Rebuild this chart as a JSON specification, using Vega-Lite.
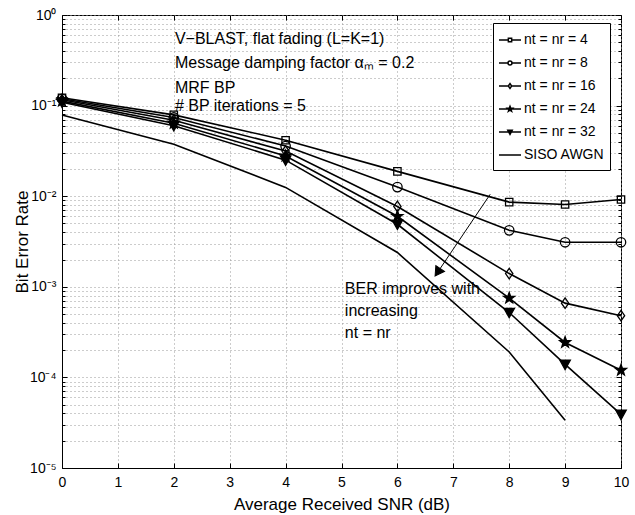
{
  "$schema": "https://vega.github.io/schema/vega-lite/v6.json",
  "width": 559,
  "height": 453,
  "autosize": {"type": "none"},
  "padding": {"left": 62, "top": 15, "right": 14, "bottom": 47},
  "background": "white",
  "config": {
    "view": {"stroke": "black", "strokeWidth": 1},
    "font": "Liberation Sans",
    "axis": {"labelFont": "Liberation Sans", "titleFont": "Liberation Sans", "domainColor": "black", "tickColor": "black", "labelColor": "black", "titleColor": "black", "titleFontWeight": "normal"}
  },
  "datasets": {
    "ber": [
      {"snr": 0, "ber": 0.122, "series": "nt = nr = 4"},
      {"snr": 2, "ber": 0.079, "series": "nt = nr = 4"},
      {"snr": 4, "ber": 0.0415, "series": "nt = nr = 4"},
      {"snr": 6, "ber": 0.0188, "series": "nt = nr = 4"},
      {"snr": 8, "ber": 0.0086, "series": "nt = nr = 4"},
      {"snr": 9, "ber": 0.0081, "series": "nt = nr = 4"},
      {"snr": 10, "ber": 0.0092, "series": "nt = nr = 4"},
      {"snr": 0, "ber": 0.119, "series": "nt = nr = 8"},
      {"snr": 2, "ber": 0.074, "series": "nt = nr = 8"},
      {"snr": 4, "ber": 0.0358, "series": "nt = nr = 8"},
      {"snr": 6, "ber": 0.0126, "series": "nt = nr = 8"},
      {"snr": 8, "ber": 0.0042, "series": "nt = nr = 8"},
      {"snr": 9, "ber": 0.0031, "series": "nt = nr = 8"},
      {"snr": 10, "ber": 0.0031, "series": "nt = nr = 8"},
      {"snr": 0, "ber": 0.116, "series": "nt = nr = 16"},
      {"snr": 2, "ber": 0.069, "series": "nt = nr = 16"},
      {"snr": 4, "ber": 0.0315, "series": "nt = nr = 16"},
      {"snr": 6, "ber": 0.0077, "series": "nt = nr = 16"},
      {"snr": 8, "ber": 0.0014, "series": "nt = nr = 16"},
      {"snr": 9, "ber": 0.00066, "series": "nt = nr = 16"},
      {"snr": 10, "ber": 0.00048, "series": "nt = nr = 16"},
      {"snr": 0, "ber": 0.112, "series": "nt = nr = 24"},
      {"snr": 2, "ber": 0.064, "series": "nt = nr = 24"},
      {"snr": 4, "ber": 0.0278, "series": "nt = nr = 24"},
      {"snr": 6, "ber": 0.006, "series": "nt = nr = 24"},
      {"snr": 8, "ber": 0.00075, "series": "nt = nr = 24"},
      {"snr": 9, "ber": 0.000243, "series": "nt = nr = 24"},
      {"snr": 10, "ber": 0.00012, "series": "nt = nr = 24"},
      {"snr": 0, "ber": 0.109, "series": "nt = nr = 32"},
      {"snr": 2, "ber": 0.06, "series": "nt = nr = 32"},
      {"snr": 4, "ber": 0.025, "series": "nt = nr = 32"},
      {"snr": 6, "ber": 0.0049, "series": "nt = nr = 32"},
      {"snr": 8, "ber": 0.00052, "series": "nt = nr = 32"},
      {"snr": 9, "ber": 0.000139, "series": "nt = nr = 32"},
      {"snr": 10, "ber": 0.000039, "series": "nt = nr = 32"},
      {"snr": 0, "ber": 0.0786, "series": "SISO AWGN"},
      {"snr": 2, "ber": 0.0375, "series": "SISO AWGN"},
      {"snr": 4, "ber": 0.0125, "series": "SISO AWGN"},
      {"snr": 6, "ber": 0.00239, "series": "SISO AWGN"},
      {"snr": 8, "ber": 0.000191, "series": "SISO AWGN"},
      {"snr": 9, "ber": 0.0000336, "series": "SISO AWGN"}
    ],
    "notes": [
      {"x": 2.02, "y": 0.537, "label": "V−BLAST, flat fading (L=K=1)"},
      {"x": 2.02, "y": 0.297, "label": "Message damping factor αₘ = 0.2"},
      {"x": 2.02, "y": 0.157, "label": "MRF BP"},
      {"x": 2.02, "y": 0.0987, "label": "# BP iterations = 5"},
      {"x": 5.06, "y": 0.00094, "label": "BER improves with"},
      {"x": 5.06, "y": 0.000542, "label": "increasing"},
      {"x": 5.06, "y": 0.000313, "label": "nt = nr"}
    ],
    "arrow": [
      {"x": 7.66, "y": 0.0105, "x2": 6.673, "y2": 0.00131, "hx": 6.72, "hy": 0.001447}
    ]
  },
  "layer": [
    {
      "data": {"name": "ber"},
      "mark": {"type": "line", "color": "black", "strokeWidth": 1.6},
      "encoding": {
        "x": {"field": "snr", "type": "quantitative", "scale": {"domain": [0, 10], "nice": false},
          "axis": {"orient": "bottom", "values": [0,1,2,3,4,5,6,7,8,9,10], "title": "Average Received SNR (dB)", "titleFontSize": 17, "titlePadding": 7, "labelFontSize": 14, "labelPadding": 12, "tickSize": -5, "grid": true, "gridDash": [1, 3], "gridColor": "#999", "gridOpacity": 1, "labelFlush": false}},
        "y": {"field": "ber", "type": "quantitative", "scale": {"type": "log", "domain": [0.00001, 1], "nice": false},
          "axis": {"orient": "left", "title": "Bit Error Rate", "titleFontSize": 17, "titleX": -40, "titleY": 226.5, "titleBaseline": "middle", "labelFontSize": 14, "labelPadding": 11, "labelOverlap": false, "labelFlush": false,
            "values": [0.00001,0.00002,0.00003,0.00004,0.00005,0.00006,0.00007,0.00008,0.00009,0.0001,0.0002,0.0003,0.0004,0.0005,0.0006,0.0007,0.0008,0.0009,0.001,0.002,0.003,0.004,0.005,0.006,0.007,0.008,0.009,0.01,0.02,0.03,0.04,0.05,0.06,0.07,0.08,0.09,0.1,0.2,0.3,0.4,0.5,0.6,0.7,0.8,0.9,1],
            "labelExpr": "abs(log(datum.value)/LN10 - round(log(datum.value)/LN10)) < 0.000001 ? (round(log(datum.value)/LN10) == 0 ? '10⁰' : round(log(datum.value)/LN10) == -1 ? '10⁻¹' : round(log(datum.value)/LN10) == -2 ? '10⁻²' : round(log(datum.value)/LN10) == -3 ? '10⁻³' : round(log(datum.value)/LN10) == -4 ? '10⁻⁴' : '10⁻⁵') : ''",
            "tickSize": {"condition": {"test": "abs(log(datum.value)/LN10 - round(log(datum.value)/LN10)) < 0.000001", "value": -5}, "value": -3},
            "grid": true, "gridDash": [1, 3], "gridColor": "#999", "gridOpacity": 1}},
        "detail": {"field": "series"},
        "order": {"field": "snr"}
      }
    },
    {
      "data": {"name": "ber"},
      "transform": [{"filter": "datum.series != 'SISO AWGN'"}],
      "mark": {"type": "point", "filled": true, "stroke": "black", "strokeWidth": 1.3, "opacity": 1, "size": 110},
      "encoding": {
        "x": {"field": "snr", "type": "quantitative", "axis": null},
        "y": {"field": "ber", "type": "quantitative", "axis": null},
        "shape": {"field": "series", "type": "nominal", "legend": null,
          "scale": {"domain": ["nt = nr = 4", "nt = nr = 8", "nt = nr = 16", "nt = nr = 24", "nt = nr = 32"],
            "range": [
              "M-0.7,-0.7H0.7V0.7H-0.7Z",
              "M-0.9,0A0.9,0.9 0 1,0 0.9,0A0.9,0.9 0 1,0 -0.9,0Z",
              "M0,-1L0.7,0L0,1L-0.7,0Z",
              "M0,-1.1L0.265,-0.364L1.046,-0.34L0.428,0.139L0.647,0.89L0,0.45L-0.647,0.89L-0.428,0.139L-1.046,-0.34L-0.265,-0.364Z",
              "M-1,-0.8L1,-0.8L0,1Z"
            ]}},
        "fill": {"field": "series", "type": "nominal", "legend": null,
          "scale": {"domain": ["nt = nr = 4", "nt = nr = 8", "nt = nr = 16", "nt = nr = 24", "nt = nr = 32"],
            "range": ["transparent", "transparent", "transparent", "black", "black"]}}
      }
    },
    {
      "data": {"name": "ber"},
      "mark": {"type": "point", "filled": true, "strokeWidth": 1.5, "opacity": 0, "size": 484},
      "encoding": {
        "x": {"field": "snr", "type": "quantitative", "axis": {"orient": "top", "values": [0,1,2,3,4,5,6,7,8,9,10], "labels": false, "title": null, "grid": false, "domain": false, "tickSize": -5}},
        "y": {"field": "ber", "type": "quantitative", "axis": {"orient": "right", "labels": false, "title": null, "grid": false, "domain": false,
            "values": [0.00001,0.00002,0.00003,0.00004,0.00005,0.00006,0.00007,0.00008,0.00009,0.0001,0.0002,0.0003,0.0004,0.0005,0.0006,0.0007,0.0008,0.0009,0.001,0.002,0.003,0.004,0.005,0.006,0.007,0.008,0.009,0.01,0.02,0.03,0.04,0.05,0.06,0.07,0.08,0.09,0.1,0.2,0.3,0.4,0.5,0.6,0.7,0.8,0.9,1],
            "tickSize": {"condition": {"test": "abs(log(datum.value)/LN10 - round(log(datum.value)/LN10)) < 0.000001", "value": -5}, "value": -3}}},
        "shape": {"field": "series", "type": "nominal",
          "scale": {"domain": ["nt = nr = 4", "nt = nr = 8", "nt = nr = 16", "nt = nr = 24", "nt = nr = 32", "SISO AWGN"],
            "range": [
              "M-1,-0.55L-1,-0.55M-1,0.55L-1,0.55M-1,0H-0.15M0.15,0H1M-0.15,-0.15H0.15V0.15H-0.15Z",
              "M-1,-0.55L-1,-0.55M-1,0.55L-1,0.55M-1,0H-0.18M0.18,0H1M-0.18,0A0.18,0.18 0 1,0 0.18,0A0.18,0.18 0 1,0 -0.18,0Z",
              "M-1,-0.55L-1,-0.55M-1,0.55L-1,0.55M-1,0H-0.15M0.15,0H1M-0.15,0L0,-0.22L0.15,0L0,0.22Z",
              "M-1,-0.55L-1,-0.55M-1,0.55L-1,0.55M-1,0H1M0,-0.24L0.058,-0.08L0.23,-0.075L0.094,0.031L0.142,0.196L0,0.099L-0.142,0.196L-0.094,0.031L-0.23,-0.075L-0.058,-0.08Z",
              "M-1,-0.55L-1,-0.55M-1,0.55L-1,0.55M-1,0H1M-0.2,-0.17L0.2,-0.17L0,0.21Z",
              "M-1,-0.55L-1,-0.55M-1,0.55L-1,0.55M-1,0H1"
            ]},
          "legend": {"title": null, "orient": "none", "legendX": 431, "legendY": 8, "strokeColor": "black", "fillColor": "white", "padding": 5, "labelFontSize": 14, "labelFont": "Liberation Sans", "labelColor": "black", "symbolOpacity": 1, "symbolStrokeWidth": 1.5, "symbolSize": 484, "rowPadding": 1, "labelOffset": 2}},
        "fill": {"field": "series", "type": "nominal",
          "scale": {"domain": ["nt = nr = 4", "nt = nr = 8", "nt = nr = 16", "nt = nr = 24", "nt = nr = 32", "SISO AWGN"],
            "range": ["white", "white", "white", "black", "black", "transparent"]}},
        "stroke": {"field": "series", "type": "nominal",
          "scale": {"domain": ["nt = nr = 4", "nt = nr = 8", "nt = nr = 16", "nt = nr = 24", "nt = nr = 32", "SISO AWGN"],
            "range": ["black", "black", "black", "black", "black", "black"]}}
      }
    },
    {
      "data": {"name": "notes"},
      "mark": {"type": "text", "align": "left", "baseline": "middle", "fontSize": 16, "font": "Liberation Sans", "color": "black"},
      "encoding": {
        "x": {"field": "x", "type": "quantitative", "axis": null},
        "y": {"field": "y", "type": "quantitative", "axis": null},
        "text": {"field": "label"}
      }
    },
    {
      "data": {"name": "arrow"},
      "mark": {"type": "rule", "color": "black", "strokeWidth": 1},
      "encoding": {
        "x": {"field": "x", "type": "quantitative", "axis": null},
        "y": {"field": "y", "type": "quantitative", "axis": null},
        "x2": {"field": "x2"},
        "y2": {"field": "y2"}
      }
    },
    {
      "data": {"name": "arrow"},
      "mark": {"type": "point", "shape": "triangle-down", "filled": true, "fill": "black", "stroke": "black", "strokeWidth": 1, "size": 110, "angle": 34, "opacity": 1},
      "encoding": {
        "x": {"field": "hx", "type": "quantitative", "axis": null},
        "y": {"field": "hy", "type": "quantitative", "axis": null}
      }
    }
  ],
  "resolve": {"scale": {"shape": "independent", "fill": "independent", "stroke": "independent"}, "axis": {"x": "independent", "y": "independent"}}
}
